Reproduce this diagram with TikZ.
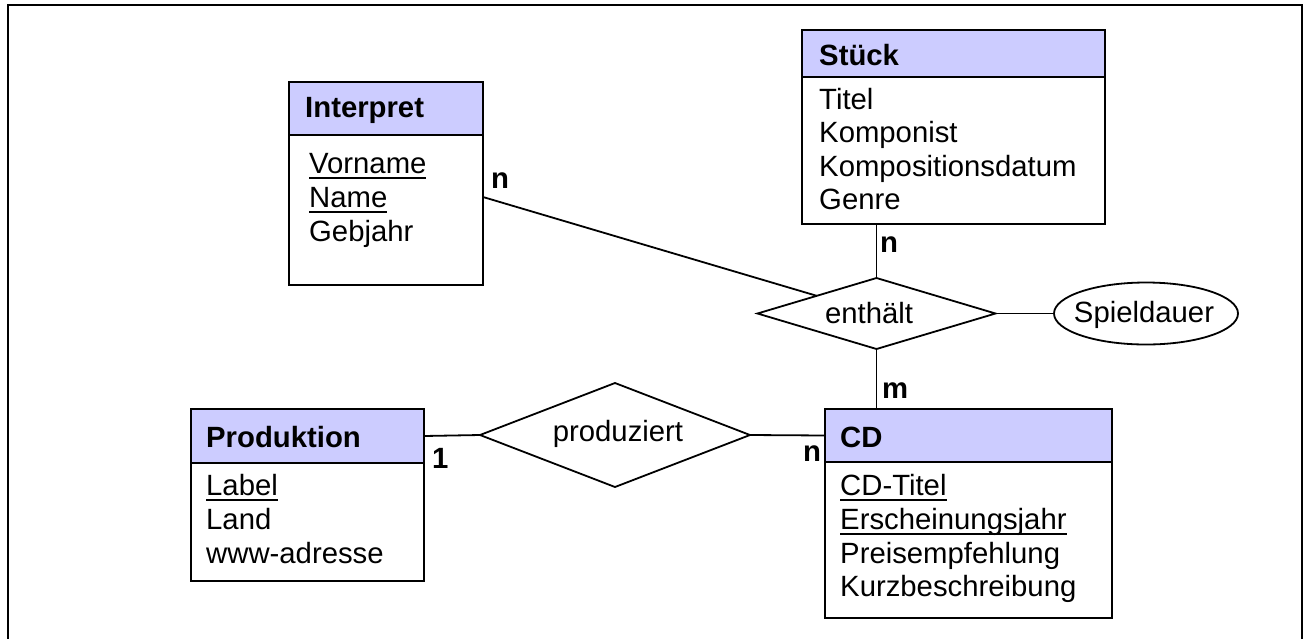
\documentclass[tikz,border=0pt]{standalone}
\usepackage{fontspec}
\setmainfont{Liberation Sans}
\usetikzlibrary{shapes.geometric}
\definecolor{hdr}{RGB}{204,204,255}
\newsavebox\ulbox
\newcommand\ulin[1]{\sbox\ulbox{#1}\rlap{\rule[-6pt]{\wd\ulbox}{1.8pt}}\usebox\ulbox}
\begin{document}
\begin{tikzpicture}[x=1pt,y=-1pt,
  every node/.style={font=\fontsize{29.3pt}{34pt}\selectfont},
  hdrbox/.style={draw, line width=1.8pt, fill=hdr, anchor=north west, inner sep=0pt, outer sep=0pt},
  bodybox/.style={draw, line width=1.8pt, fill=white, anchor=north west, inner sep=0pt, outer sep=0pt},
  ttl/.style={anchor=base west, inner sep=0pt, font=\fontsize{29.3pt}{34pt}\selectfont\bfseries},
  attr/.style={anchor=base west, inner sep=0pt},
  card/.style={anchor=base west, inner sep=0pt, font=\fontsize{29.3pt}{34pt}\selectfont\bfseries},
  rel/.style={diamond, draw, line width=1.8pt, inner sep=0pt, outer sep=0pt},
  conn/.style={line width=1.8pt},
  relname/.style={anchor=base, inner sep=0pt}]
\useasboundingbox (0,0) rectangle (1309,638);
% outer frame
\draw[line width=2pt] (7.7,640) -- (7.7,5.2) -- (1301.5,5.2) -- (1301.5,640);

% Interpret
\node[bodybox, minimum width=194pt, minimum height=150pt] (ib) at (289,135) {};
\node[hdrbox, minimum width=194pt, minimum height=53pt] (ih) at (289,82) {};
\node[ttl] (iht) at (305,117) {Interpret};
\node[attr] (ia1) at (309,173) {\ulin{Vorname}};
\node[attr] (ia2) at (309,207) {\ulin{Name}};
\node[attr] (ia3) at (309,241) {Gebjahr};

% Stueck
\node[bodybox, minimum width=303pt, minimum height=147pt] (sb) at (802,77) {};
\node[hdrbox, minimum width=303pt, minimum height=47pt] (sh) at (802,30) {};
\node[ttl] (sht) at (819,65) {Stück};
\node[attr] (sa1) at (819,109) {Titel};
\node[attr] (sa2) at (819,142) {Komponist};
\node[attr] (sa3) at (819,176) {Kompositionsdatum};
\node[attr] (sa4) at (819,209) {Genre};

% Produktion
\node[bodybox, minimum width=233pt, minimum height=118pt] (pb) at (191,463) {};
\node[hdrbox, minimum width=233pt, minimum height=54pt] (ph) at (191,409) {};
\node[ttl] (pht) at (206,447) {Produktion};
\node[attr] (pa1) at (206,495) {\ulin{Label}};
\node[attr] (pa2) at (206,529) {Land};
\node[attr] (pa3) at (206,563) {www-adresse};

% CD
\node[bodybox, minimum width=287pt, minimum height=156pt] (cb) at (825,462) {};
\node[hdrbox, minimum width=287pt, minimum height=53pt] (ch) at (825,409) {};
\node[ttl] (cht) at (840,447) {CD};
\node[attr] (ca1) at (840,495) {\ulin{CD-Titel}};
\node[attr] (ca2) at (840,529) {\ulin{Erscheinungsjahr}};
\node[attr] (ca3) at (840,563) {Preisempfehlung};
\node[attr] (ca4) at (840,596) {Kurzbeschreibung};

% relationships
\node[rel, minimum width=238pt, minimum height=71pt] (enth) at (876.5,313.5) {};
\node[relname] (enthl) at (869,323) {enthält};
\node[rel, minimum width=270pt, minimum height=104pt] (prod) at (615,435) {};
\node[relname] (prodl) at (618,441) {produziert};
\node[ellipse, draw, line width=1.8pt, inner sep=0pt, minimum width=184pt, minimum height=62pt] (spiel) at (1146,313.5) {};
\node[relname] (spiell) at (1144,322) {Spieldauer};

% connectors
\draw[conn] ([yshift=13pt]ib.east) -- (enth);
\draw[conn] (enth.north) -- (enth.north |- sb.south);
\draw[conn] (enth.south) -- (enth.south |- ch.north);
\draw[conn] (enth.east) -- (spiel.west);
\draw[conn] (ph.east) -- (prod.west);
\draw[conn] (prod.east) -- (ch.west);

% cardinalities
\node[card] (c1) at (491,188) {n};
\node[card] (c2) at (880,252) {n};
\node[card] (c3) at (882,398) {m};
\node[card] (c4) at (432,468) {1};
\node[card] (c5) at (803,461) {n};
\end{tikzpicture}
\end{document}
